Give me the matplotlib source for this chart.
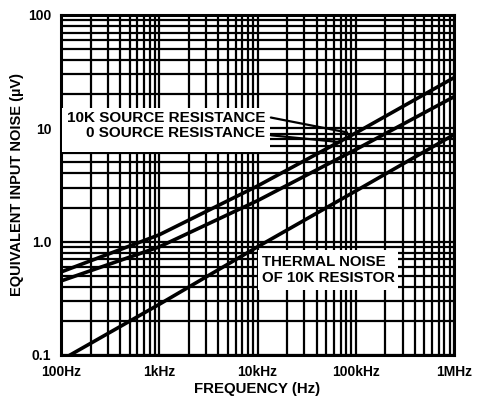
import matplotlib
matplotlib.use("Agg")
import matplotlib.pyplot as plt
from matplotlib.patches import Rectangle

plt.rcParams['font.family'] = ['Liberation Sans', 'DejaVu Sans']
plt.rcParams['font.weight'] = 'bold'

freq = [100, 1e3, 1e4, 1e5, 1e6]
src_10k = [0.54, 1.15, 3.1, 9.1, 28]
src_0 = [0.45, 0.90, 2.3, 6.5, 19]
thermal = [0.09, 0.28, 0.9, 2.8, 8.8]

xticks = [100, 1e3, 1e4, 1e5, 1e6]
xticklabels = ['100Hz', '1kHz', '10kHz', '100kHz', '1MHz']
yticks = [0.1, 1, 10, 100]
yticklabels = ['0.1', '1.0', '10', '100']

fig = plt.figure(figsize=(4.79, 4.03), dpi=100)
ax = fig.add_axes([61/479, 1-355/403, 393/479, 340/403])
ax.set_xscale('log')
ax.set_yscale('log')
ax.set_xlim(100, 1e6)
ax.set_ylim(0.1, 100)

ax.grid(True, which='both', color='black', linewidth=1.6)
ax.set_axisbelow(True)
for s in ax.spines.values():
    s.set_linewidth(2.2)

lw = 2.6
ax.plot(freq, src_10k, color='black', lw=lw, solid_capstyle='butt', zorder=4)
ax.plot(freq, src_0, color='black', lw=lw, solid_capstyle='butt', zorder=4)
ax.plot(freq, thermal, color='black', lw=lw, solid_capstyle='butt', zorder=4)

ax.set_xticks(xticks)
ax.set_xticklabels(xticklabels, fontsize=10, fontweight='bold')
ax.set_yticks(yticks)
ax.set_yticklabels(yticklabels, fontsize=10, fontweight='bold')
ax.tick_params(which='both', length=0, pad=7)
ax.set_xlabel('FREQUENCY (Hz)', fontsize=10.8, fontweight='bold', labelpad=2)
ax.set_ylabel('EQUIVALENT INPUT NOISE (µV)', fontsize=10.5, fontweight='bold', labelpad=3)

# White label areas
ax.add_patch(Rectangle((0.003, 0.597), 0.53, 0.129, transform=ax.transAxes,
                       fc='white', ec='none', zorder=3))
ax.add_patch(Rectangle((0.501, 0.191), 0.356, 0.118, transform=ax.transAxes,
                       fc='white', ec='none', zorder=3))

ax.text(0.52, 0.674, '10K SOURCE RESISTANCE\n0 SOURCE RESISTANCE',
        transform=ax.transAxes, ha='right', va='center', fontsize=11,
        fontweight='bold', linespacing=1.1, zorder=5)
ax.text(0.512, 0.25, 'THERMAL NOISE\nOF 10K RESISTOR',
        transform=ax.transAxes, ha='left', va='center', fontsize=10.8,
        fontweight='bold', linespacing=1.1, zorder=5)

# Leader lines
ax.annotate('', xy=(0.735, 0.653), xytext=(0.527, 0.70), xycoords='axes fraction',
            arrowprops=dict(arrowstyle='-', color='black', lw=1.6), zorder=6)
ax.annotate('', xy=(0.72, 0.625), xytext=(0.527, 0.647), xycoords='axes fraction',
            arrowprops=dict(arrowstyle='-', color='black', lw=1.6), zorder=6)

fig.savefig('out.png', dpi=100)
